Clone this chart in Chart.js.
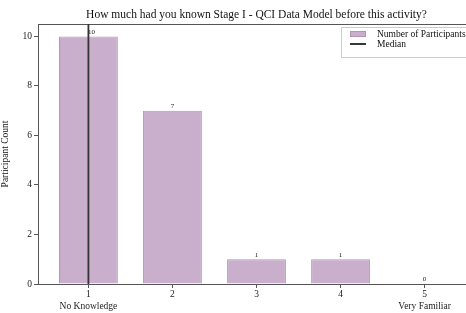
<!DOCTYPE html>
<html><head><meta charset="utf-8">
<script src="https://cdn.jsdelivr.net/npm/chart.js@4"></script>
<style>html,body{margin:0;padding:0;overflow:hidden;background:#fff;width:466px;height:313px}#wrap{width:512px;height:313px}</style>
</head><body><div id="wrap"><canvas id="c" width="512" height="313"></canvas></div>
<script>
const categories = [1, 2, 3, 4, 5];
const tickLabels = [['1', 'No Knowledge'], ['2'], ['3'], ['4'], ['5', 'Very Familiar']];
const counts = [10, 7, 1, 1, 0];
const median = 1;
const titleText = 'How much had you known Stage I - QCI Data Model before this activity?';
const yTitle = 'Participant Count';
const legendLabels = ['Number of Participants', 'Median'];

const FONT = '"Liberation Serif", "DejaVu Serif", serif';
const barFill = 'rgba(196,166,199,0.9)';
const barEdge = '#b793b8';

const deco = {
  id: 'deco',
  afterDatasetsDraw(chart) {
    const ctx = chart.ctx, a = chart.chartArea, x = chart.scales.x;
    ctx.save();
    // top & right spines
    ctx.strokeStyle = '#555'; ctx.lineWidth = 1;
    ctx.beginPath(); ctx.moveTo(a.left, a.top + 0.5); ctx.lineTo(a.right, a.top + 0.5); ctx.stroke();
    ctx.beginPath(); ctx.moveTo(a.right - 0.5, a.top); ctx.lineTo(a.right - 0.5, a.bottom); ctx.stroke();
    // value labels
    ctx.fillStyle = '#222'; ctx.font = '7px ' + FONT; ctx.textAlign = 'center'; ctx.textBaseline = 'bottom';
    const meta = chart.getDatasetMeta(0);
    meta.data.forEach((el, i) => { ctx.fillText(String(counts[i]), el.x + (i === 0 ? 3 : 0), el.y - 1); });
    // median line
    const mx = x.getPixelForValue(median);
    ctx.strokeStyle = '#333'; ctx.lineWidth = 1.8;
    ctx.beginPath(); ctx.moveTo(mx, a.top); ctx.lineTo(mx, a.bottom); ctx.stroke();
    // title
    ctx.fillStyle = '#111'; ctx.font = '11.5px ' + FONT; ctx.textBaseline = 'middle';
    ctx.fillText(titleText, (a.left + a.right) / 2, 15);
    // legend
    const lx = 341, ly = 27, lw = 135, lh = 30;
    ctx.fillStyle = 'rgba(255,255,255,0.85)';
    ctx.strokeStyle = '#ccc'; ctx.lineWidth = 1;
    ctx.beginPath(); ctx.rect(lx + 0.5, ly + 0.5, lw, lh); ctx.fill(); ctx.stroke();
    ctx.fillStyle = barFill; ctx.strokeStyle = barEdge;
    ctx.fillRect(350, 31, 16, 6); ctx.strokeRect(350.5, 31.5, 15, 5);
    ctx.strokeStyle = '#222'; ctx.lineWidth = 1.8;
    ctx.beginPath(); ctx.moveTo(350, 44); ctx.lineTo(366, 44); ctx.stroke();
    ctx.fillStyle = '#111'; ctx.font = '9.5px ' + FONT; ctx.textAlign = 'left';
    ctx.fillText(legendLabels[0], 377, 34);
    ctx.fillText(legendLabels[1], 377, 44);
    ctx.restore();
  }
};

new Chart(document.getElementById('c'), {
  type: 'bar',
  data: {
    datasets: [{
      label: legendLabels[0],
      data: categories.map((c, i) => ({ x: c, y: counts[i] })),
      backgroundColor: barFill,
      borderColor: barEdge,
      borderWidth: 1,
      categoryPercentage: 1,
      barPercentage: 0.7
    }]
  },
  options: {
    responsive: false,
    animation: false,
    devicePixelRatio: 1,
    layout: { padding: { top: 24, right: 37, left: 0, bottom: 0 } },
    plugins: { legend: { display: false }, title: { display: false }, tooltip: { enabled: false } },
    scales: {
      x: {
        type: 'linear', min: 0.4, max: 5.6, offset: false,
        afterBuildTicks: s => { s.ticks = categories.map(v => ({ value: v })); },
        afterFit: s => { s.height = 29; },
        grid: { drawOnChartArea: false, offset: false, tickLength: 4, color: '#555' },
        border: { color: '#555', width: 1 },
        ticks: {
          color: '#222', font: { family: FONT, size: 9.5 }, padding: 1, maxRotation: 0, autoSkip: false,
          callback: v => tickLabels[categories.indexOf(v)] || ''
        }
      },
      y: {
        min: 0, max: 10.5,
        afterBuildTicks: s => { s.ticks = [0, 2, 4, 6, 8, 10].map(v => ({ value: v })); },
        afterFit: s => { s.width = 38; },
        grid: { drawOnChartArea: false, tickLength: 4, color: '#555' },
        border: { color: '#555', width: 1 },
        ticks: { color: '#222', font: { family: FONT, size: 9.5 }, padding: 2 },
        title: { display: true, text: yTitle, color: '#111', font: { family: FONT, size: 9.5 }, padding: { top: 0, bottom: 0 } }
      }
    }
  },
  plugins: [deco]
});
</script></body></html>
